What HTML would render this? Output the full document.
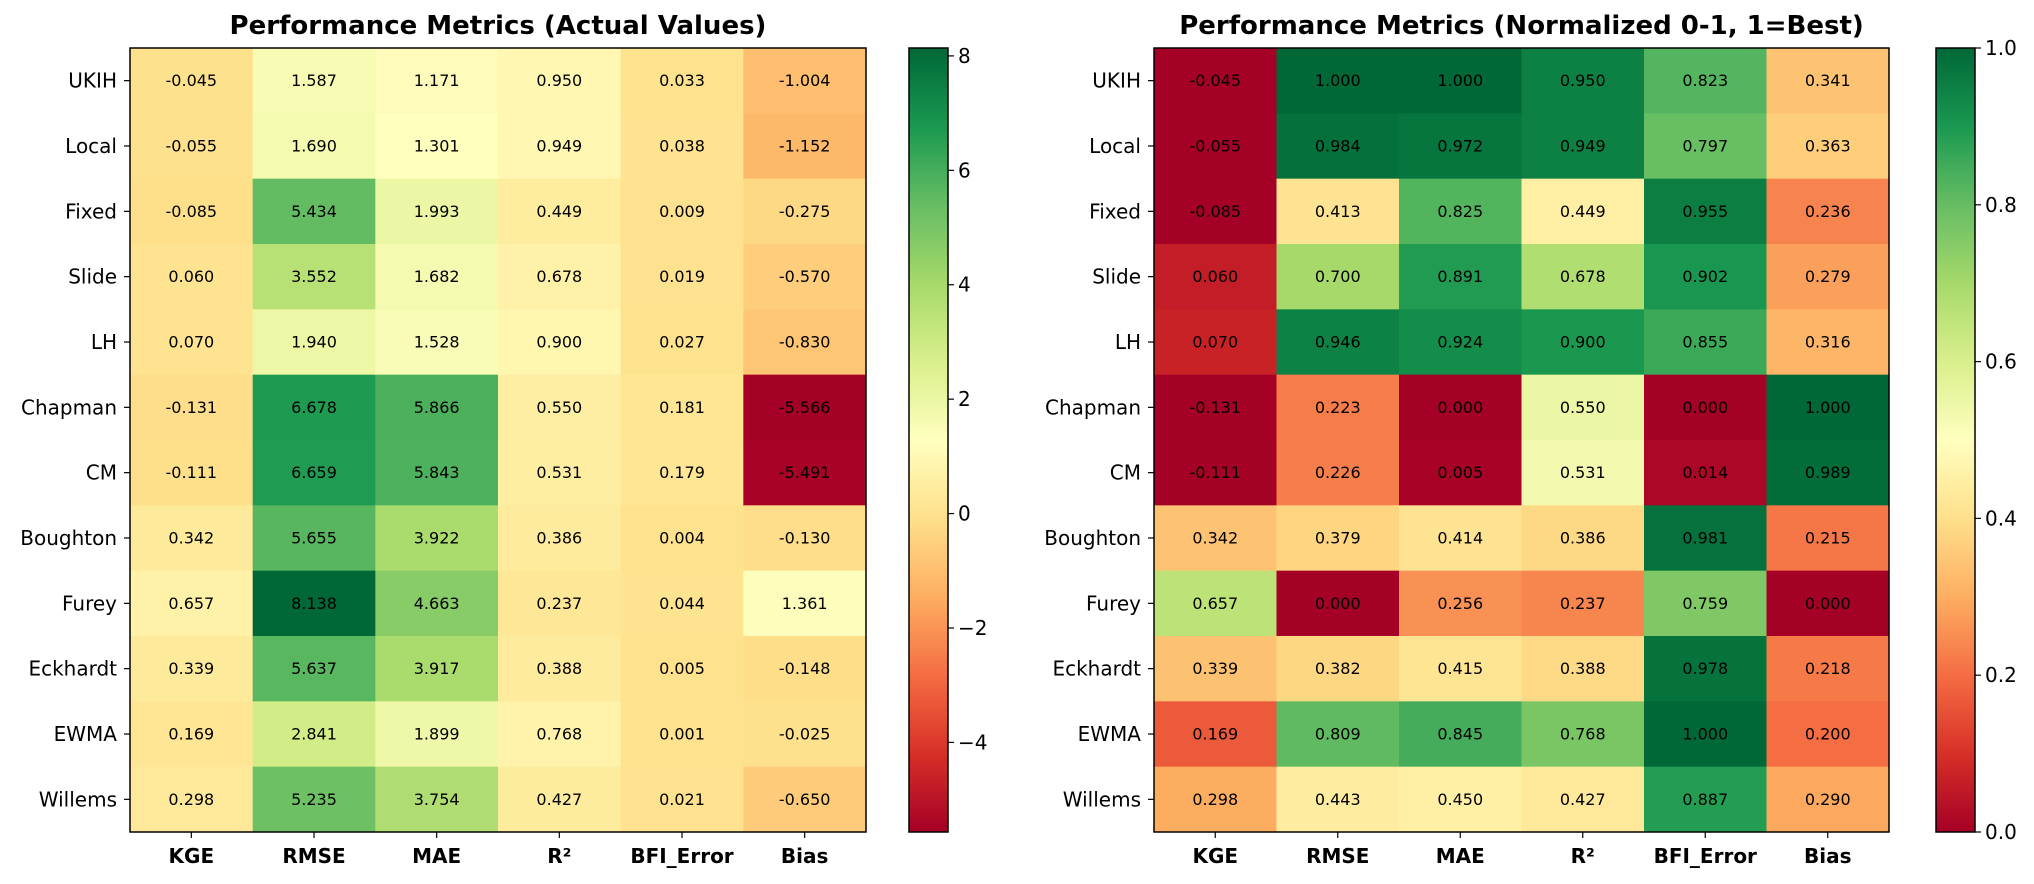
<!DOCTYPE html>
<html><head><meta charset="utf-8"><style>
html,body{margin:0;padding:0;background:#fff;}
svg{display:block;font-family:"DejaVu Sans","Liberation Sans",sans-serif;}
</style></head><body>
<svg id="chart" width="2034" height="884" viewBox="0 0 2034 884" xmlns="http://www.w3.org/2000/svg"></svg>
<script>
const methods = ["UKIH","Local","Fixed","Slide","LH","Chapman","CM","Boughton","Furey","Eckhardt","EWMA","Willems"];
const metrics = ["KGE","RMSE","MAE","R²","BFI_Error","Bias"];
const actualKGE  = [-0.045,-0.055,-0.085,0.060,0.070,-0.131,-0.111,0.342,0.657,0.339,0.169,0.298];
const actualRMSE = [1.587,1.690,5.434,3.552,1.940,6.678,6.659,5.655,8.138,5.637,2.841,5.235];
const actualMAE  = [1.171,1.301,1.993,1.682,1.528,5.866,5.843,3.922,4.663,3.917,1.899,3.754];
const actualR2   = [0.950,0.949,0.449,0.678,0.900,0.550,0.531,0.386,0.237,0.388,0.768,0.427];
const actualBFI  = [0.033,0.038,0.009,0.019,0.027,0.181,0.179,0.004,0.044,0.005,0.001,0.021];
const actualBias = [-1.004,-1.152,-0.275,-0.570,-0.830,-5.566,-5.491,-0.130,1.361,-0.148,-0.025,-0.650];
const normKGE  = [-0.045,-0.055,-0.085,0.060,0.070,-0.131,-0.111,0.342,0.657,0.339,0.169,0.298];
const normRMSE = [1.000,0.984,0.413,0.700,0.946,0.223,0.226,0.379,0.000,0.382,0.809,0.443];
const normMAE  = [1.000,0.972,0.825,0.891,0.924,0.000,0.005,0.414,0.256,0.415,0.845,0.450];
const normR2   = [0.950,0.949,0.449,0.678,0.900,0.550,0.531,0.386,0.237,0.388,0.768,0.427];
const normBFI  = [0.823,0.797,0.955,0.902,0.855,0.000,0.014,0.981,0.759,0.978,1.000,0.887];
const normBias = [0.341,0.363,0.236,0.279,0.316,1.000,0.989,0.215,0.000,0.218,0.200,0.290];
const leftTicks = [-4,-2,0,2,4,6,8];
const rightTicks = [0.0,0.2,0.4,0.6,0.8,1.0];

const stops=["#a50026","#d73027","#f46d43","#fdae61","#fee08b","#ffffbf","#d9ef8b","#a6d96a","#66bd63","#1a9850","#006837"].map(h=>[parseInt(h.substr(1,2),16),parseInt(h.substr(3,2),16),parseInt(h.substr(5,2),16)]);
function cmap(t){t=Math.max(0,Math.min(1,t));const p=t*10,i=Math.min(9,Math.floor(p)),f=p-i;const a=stops[i],b=stops[i+1];return `rgb(${a.map((v,k)=>Math.round(v+(b[k]-v)*f)).join(',')})`;}
const svg=document.getElementById('chart');const NS="http://www.w3.org/2000/svg";
function mk(tag,attrs,parent){const e=document.createElementNS(NS,tag);for(const k in attrs)e.setAttribute(k,attrs[k]);(parent||svg).appendChild(e);return e;}

function panel(key,title,cols,vmin,vmax,ax,cb,ticks,fmt){
  const g=mk('g',{});
  
  
  const top=48,bot=832,rh=(bot-top)/methods.length,cw=(ax[1]-ax[0])/metrics.length;
  const t=mk('text',{x:(ax[0]+ax[1])/2,y:34,'text-anchor':'middle','font-size':26,'font-weight':'bold'},g);
  t.textContent=title;
  
  
  cols.forEach((col,j)=>{col.forEach((v,i)=>{
    const r=mk('rect',{x:ax[0]+j*cw,y:top+i*rh,width:cw+0.5,height:rh+0.5,fill:cmap((v-vmin)/(vmax-vmin))},g);
    
    
    const tx=mk('text',{x:ax[0]+(j+0.5)*cw,y:top+(i+0.5)*rh+5.5,'text-anchor':'middle','font-size':16},g);
    tx.textContent=v.toFixed(3);
    
    
  });});
  mk('rect',{x:ax[0],y:top,width:ax[1]-ax[0],height:bot-top,fill:'none',stroke:'#000','stroke-width':1.5},g);
  methods.forEach((m,i)=>{const y=top+(i+0.5)*rh;
    mk('line',{x1:ax[0]-6,x2:ax[0],y1:y,y2:y,stroke:'#000','stroke-width':1.2},g);
    const l=mk('text',{x:ax[0]-13,y:y+7,'text-anchor':'end','font-size':20},g);l.textContent=m;
    
    
  });
  metrics.forEach((m,j)=>{const x=ax[0]+(j+0.5)*cw;
    mk('line',{x1:x,x2:x,y1:bot,y2:bot+6,stroke:'#000','stroke-width':1.2},g);
    const l=mk('text',{x:x,y:863,'text-anchor':'middle','font-size':20,'font-weight':'bold'},g);l.textContent=m;
    
    
  });
  const gid='grad-'+key;const defs=mk('defs',{},g);
  const lg=mk('linearGradient',{id:gid,x1:0,y1:1,x2:0,y2:0},defs);
  for(let k=0;k<=20;k++)mk('stop',{offset:k/20,'stop-color':cmap(k/20)},lg);
  const cbr=mk('rect',{x:cb[0],y:top,width:cb[1]-cb[0],height:bot-top,fill:'url(#'+gid+')',stroke:'#000','stroke-width':1.5},g);
  
  
  ticks.forEach(tv=>{const y=bot-(tv-vmin)/(vmax-vmin)*(bot-top);
    mk('line',{x1:cb[1],x2:cb[1]+6,y1:y,y2:y,stroke:'#000','stroke-width':1.2},g);
    const l=mk('text',{x:cb[1]+10,y:y+7,'font-size':20},g);l.textContent=fmt(tv);
    
    
  });
}
panel('actual','Performance Metrics (Actual Values)',[actualKGE,actualRMSE,actualMAE,actualR2,actualBFI,actualBias],-5.566,8.138,[130,866],[909,948],leftTicks,v=>v<0?'−'+Math.abs(v):String(v));
panel('normalized','Performance Metrics (Normalized 0-1, 1=Best)',[normKGE,normRMSE,normMAE,normR2,normBFI,normBias],0,1,[1154,1889],[1936,1975],rightTicks,v=>v.toFixed(1));
</script>
</body></html>
